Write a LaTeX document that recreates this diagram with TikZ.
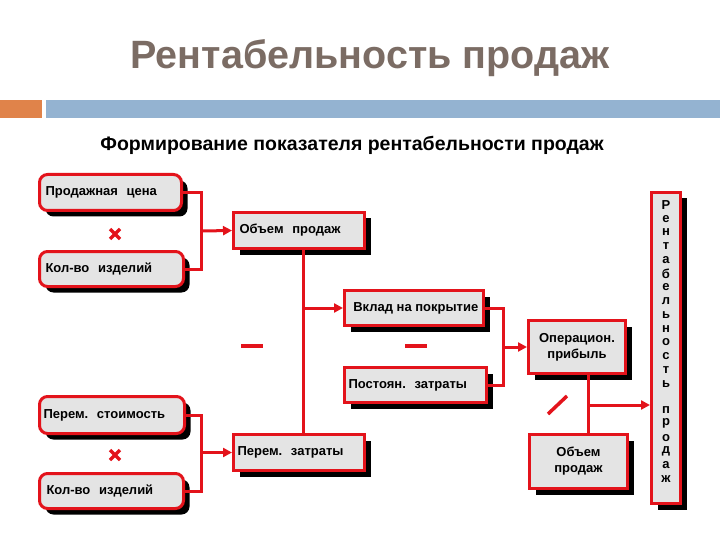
\documentclass[tikz,border=0pt]{standalone}
\usepackage{fontspec}
\setmainfont{Liberation Sans}
\usetikzlibrary{arrows.meta,shadows}
\definecolor{titlec}{HTML}{7B6C64}
\definecolor{orangebar}{HTML}{E0834A}
\definecolor{bluebar}{HTML}{94B3D1}
\definecolor{boxred}{HTML}{E3131B}
\definecolor{boxgray}{HTML}{E4E4E4}
\tikzset{
  box/.style={draw=boxred, line width=3pt, fill=boxgray, inner sep=0pt,
    drop shadow={shadow xshift=6pt, shadow yshift=-6pt, fill=black, opacity=1},
    font=\bfseries\fontsize{13}{16}\selectfont},
  rbox/.style={box, rounded corners=8pt},
  conn/.style={draw=boxred, line width=3pt},
  arr/.style={conn, -{Triangle[length=9pt,width=9pt]}},
  opmark/.style={draw=boxred, line width=3.5pt},
  vlet/.style={font=\bfseries\fontsize{13}{13}\selectfont, inner sep=0pt}
}
\begin{document}
\begin{tikzpicture}[x=1pt,y=-1pt]
\useasboundingbox (0,0) rectangle (720,540);
% title and bars
\node[text=titlec, font=\bfseries\fontsize{39.5}{44}\selectfont] (title) at (370,58) {Рентабельность продаж};
\fill[orangebar] (0,100) rectangle (42,118);
\fill[bluebar] (46,100) rectangle (720,118);
\node[font=\bfseries\fontsize{19.5}{23}\selectfont] (sub) at (352,145) {Формирование показателя рентабельности продаж};
% boxes
\node[rbox, minimum width=142pt, minimum height=36pt, text width=130pt, align=left] (pc) at (110.5,192.5) {Продажная\ \ цена\\[2pt]};
\node[rbox, minimum width=144pt, minimum height=35pt, text width=132pt, align=left] (kv1) at (111.5,269) {Кол-во\ \ изделий};
\node[box, minimum width=131pt, minimum height=36pt, text width=119pt, align=left] (ov) at (299,230.5) {Объем\ \ продаж};
\node[box, minimum width=139pt, minimum height=35pt] (vk) at (414,308) {\ Вклад на\ покрытие};
\node[box, minimum width=142pt, minimum height=35pt, text width=134pt, align=left] (pz) at (415.5,385) {Постоян.\ \ затраты};
\node[box, minimum width=97pt, minimum height=53pt, align=center] (op) at (577,347) {Операцион.\\прибыль};
\node[rbox, minimum width=145pt, minimum height=37pt, text width=137pt, align=left] (ps) at (112,415) {Перем.\ \ стоимость\\[10pt]};
\node[rbox, minimum width=144pt, minimum height=35pt, text width=130pt, align=left] (kv2) at (111.5,491) {Кол-во\ \ изделий};
\node[box, minimum width=131pt, minimum height=36pt, text width=123pt, align=left] (pzt) at (299,452.5) {Перем.\ \ затраты};
\node[box, minimum width=98pt, minimum height=54pt, align=center] (ov2) at (578.5,461.5) {Объем\\продаж};
\node[box, minimum width=29pt, minimum height=311pt] (rp) at (666,348) {};
% vertical text
\foreach \ch [count=\i from 0] in {Р,е,н,т,а,б,е,л,ь,н,о,с,т,ь}
  \node[vlet] (l\i) at (666,205+13.75*\i) {\ch};
\foreach \ch [count=\i from 0] in {п,р,о,д,а,ж}
  \node[vlet] (m\i) at (666,410+13.8*\i) {\ch};
% junctions
\coordinate (j1) at (201,231);
\coordinate (j2) at (303,308);
\coordinate (j3) at (503,347);
\coordinate (j4) at (588,405);
% connectors
\draw[conn] (pc.east) -| (j1) |- (kv1.east);
\draw[arr] (j1) -- (ov.west);
\draw[conn] (ps.east) -| (j1 |- pzt.west) |- (kv2.east);
\draw[arr] (j1 |- pzt.west) -- (pzt.west);
\draw[conn] (ov.south -| j2) -- (pzt.north -| j2);
\draw[arr] (j2) -- (vk.west);
\draw[conn] (vk.east) -| (j3) |- (pz.east);
\draw[arr] (j3) -- (op.west);
\draw[conn] (op.south -| j4) -- (ov2.north -| j4);
\draw[arr] (j4) -- (rp.west |- j4);
% operators
\draw[opmark] (110,229) -- (120,239) (120,229) -- (110,239);
\draw[opmark] (110,450) -- (120,460) (120,450) -- (110,460);
\draw[opmark] (241,346) -- (263,346);
\draw[opmark] (405,346) -- (427,346);
\draw[opmark] (548,414) -- (567,396);
\end{tikzpicture}
\end{document}
